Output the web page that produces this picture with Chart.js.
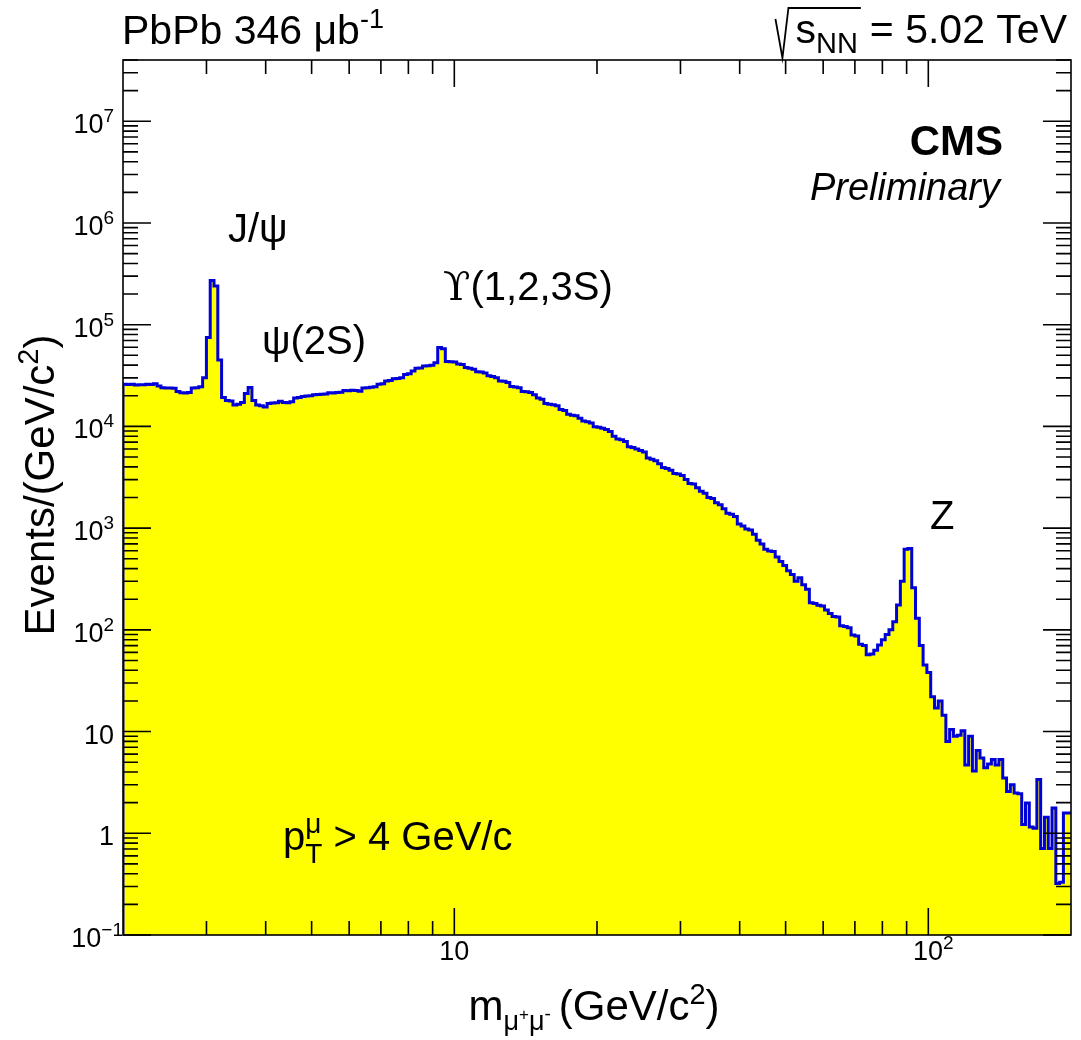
<!DOCTYPE html>
<html>
<head>
<meta charset="utf-8">
<title>PbPb dimuon mass spectrum</title>
<script src="https://cdn.jsdelivr.net/npm/chart.js@4.4.1/dist/chart.umd.min.js"></script>
<style>
  html, body { margin: 0; padding: 0; background: #ffffff; }
  #wrap { width: 1081px; height: 1040px; position: relative; }
</style>
</head>
<body>
<div id="wrap"><canvas id="c" width="1081" height="1040"></canvas></div>
<script>
// Invariant mass range (GeV/c^2), log-uniform bins
const massMin = 2;
const massMax = 200;

// Events/(GeV/c^2) per bin, 250 log-uniform bins between massMin and massMax
const counts = [
  2.6e4, 2.58e4, 2.6e4, 2.55e4, 2.57e4, 2.56e4, 2.6e4, 2.58e4, 2.62e4, 2.5e4,
  2.4e4, 2.39e4, 2.38e4, 2.37e4, 2.2e4, 2.14e4, 2.13e4, 2.16e4, 2.38e4, 2.4e4,
  2.45e4, 3.0e4, 7.5e4, 2.72e5, 2.4e5, 4.5e4, 1.92e4, 1.8e4, 1.78e4, 1.62e4,
  1.65e4, 1.72e4, 2.1e4, 2.41e4, 1.8e4, 1.62e4, 1.6e4, 1.55e4, 1.68e4, 1.7e4,
  1.71e4, 1.77e4, 1.72e4, 1.71e4, 1.75e4, 1.9e4, 1.92e4, 1.97e4, 1.99e4, 2.0e4,
  2.05e4, 2.06e4, 2.07e4, 2.08e4, 2.14e4, 2.13e4, 2.15e4, 2.17e4, 2.26e4, 2.24e4,
  2.27e4, 2.25e4, 2.22e4, 2.38e4, 2.4e4, 2.42e4, 2.45e4, 2.59e4, 2.62e4, 2.79e4,
  2.82e4, 2.94e4, 2.96e4, 3.0e4, 3.24e4, 3.3e4, 3.5e4, 3.72e4, 3.75e4, 3.92e4,
  3.95e4, 4.0e4, 4.23e4, 5.95e4, 5.8e4, 4.35e4, 4.33e4, 4.3e4, 4.1e4, 4.05e4,
  3.8e4, 3.72e4, 3.65e4, 3.45e4, 3.42e4, 3.35e4, 3.15e4, 3.1e4, 3.0e4, 2.8e4,
  2.78e4, 2.7e4, 2.47e4, 2.44e4, 2.4e4, 2.2e4, 2.19e4, 2.15e4, 2.05e4, 1.9e4,
  1.85e4, 1.68e4, 1.65e4, 1.63e4, 1.6e4, 1.47e4, 1.43e4, 1.32e4, 1.29e4, 1.27e4,
  1.2e4, 1.13e4, 1.11e4, 1.08e4, 9.9e3, 9.8e3, 9.6e3, 9.3e3, 8.9e3, 8.0e3,
  7.5e3, 7.4e3, 7.1e3, 6.3e3, 6.2e3, 6.0e3, 5.8e3, 5.6e3, 4.9e3, 4.75e3,
  4.6e3, 4.3e3, 3.95e3, 3.85e3, 3.7e3, 3.45e3, 3.4e3, 3.3e3, 3.0e3, 2.75e3,
  2.72e3, 2.5e3, 2.3e3, 2.2e3, 2.0e3, 1.95e3, 1.78e3, 1.7e3, 1.55e3, 1.4e3,
  1.37e3, 1.3e3, 1.1e3, 1.05e3, 980, 960, 870, 760, 700, 620,
  595, 590, 520, 470, 430, 380, 350, 300, 325, 278,
  250, 185, 182, 174, 172, 157, 145, 135, 134, 110,
  108, 105, 89, 87, 72, 70, 57, 58, 63, 71,
  80, 90, 100, 120, 175, 300, 620, 630, 260, 130,
  70, 45, 38, 22, 17, 20, 14.5, 8, 10.5, 9.0,
  9.2, 10.2, 4.7, 9.0, 4.1, 6.5, 5.5, 4.4, 4.8, 5.3,
  4.7, 5.3, 3.5, 2.57, 3.0, 2.49, 2.45, 1.22, 1.98, 1.15,
  1.12, 3.37, 0.71, 1.44, 0.71, 1.77, 0.32, 0.33, 1.58, 1.58
];

// Axis ranges
const yMin = 0.1;
const yMax = 4e7;

// Tick labels: [value, mantissa text, exponent text]
const xTickLabels = [[10, '10', ''], [100, '10', '2']];
const yTickLabels = [
  [0.1, '10', '\u22121'], [1, '1', ''], [10, '10', ''], [100, '10', '2'],
  [1e3, '10', '3'], [1e4, '10', '4'], [1e5, '10', '5'], [1e6, '10', '6'], [1e7, '10', '7']
];

const FONT = '"Liberation Sans", Arial, Helvetica, sans-serif';

// Step outline: start on the floor at the low edge, then one point per bin low edge,
// closing at the upper edge of the last bin
const nBins = counts.length;
const binEdge = i => massMin * Math.pow(massMax / massMin, i / nBins);
const points = [{ x: massMin, y: yMin }];
counts.forEach((c, i) => points.push({ x: binEdge(i), y: c }));
points.push({ x: massMax, y: counts[nBins - 1] });

// Draws a run of text pieces (with sub/superscripts) and returns its extent
function drawRich(ctx, parts, x, y, align) {
  let w = 0;
  const widths = [];
  parts.forEach((p, k) => {
    ctx.font = p.font;
    const pw = ctx.measureText(p.t).width;
    widths.push(pw);
    if (p.stack) {
      // stacked over the previous piece: width is the max of both
      const prev = widths[k - 1];
      if (pw > prev) w += pw - prev;
    } else {
      w += pw + (p.gap || 0);
    }
  });
  let cx = align === 'right' ? x - w : align === 'center' ? x - w / 2 : x;
  const left = cx;
  let lastX = cx, lastW = 0;
  parts.forEach((p, k) => {
    ctx.font = p.font;
    if (p.stack) {
      ctx.fillText(p.t, lastX, y + (p.dy || 0));
      if (widths[k] > lastW) { cx = lastX + widths[k]; }
    } else {
      ctx.fillText(p.t, cx, y + (p.dy || 0));
      lastX = cx; lastW = widths[k];
      cx += widths[k] + (p.gap || 0);
    }
  });
  return { left, right: left + w };
}

const framePlugin = {
  id: 'frame',
  afterDatasetsDraw(chart) {
    const { ctx, chartArea: a, scales } = chart;
    const xs = scales.x, ys = scales.y;
    ctx.save();
    ctx.strokeStyle = '#000';
    ctx.lineWidth = 1.6;
    ctx.strokeRect(a.left, a.top, a.right - a.left, a.bottom - a.top);
    ctx.beginPath();
    // mass axis ticks, bottom and top, pointing inward
    for (let d = 0; d <= 2; d++) {
      for (let k = 1; k <= 9; k++) {
        const v = k * Math.pow(10, d);
        if (v <= massMin || v >= massMax) continue;
        const px = xs.getPixelForValue(v);
        const len = k === 1 ? 27 : 14;
        ctx.moveTo(px, a.bottom); ctx.lineTo(px, a.bottom - len);
        ctx.moveTo(px, a.top); ctx.lineTo(px, a.top + len);
      }
    }
    // event axis ticks, left and right
    for (let d = -1; d <= 7; d++) {
      for (let k = 1; k <= 9; k++) {
        const v = k * Math.pow(10, d);
        if (v < yMin * 0.999 || v > yMax * 1.001) continue;
        const py = ys.getPixelForValue(v);
        const len = k === 1 ? 28 : 15;
        ctx.moveTo(a.left, py); ctx.lineTo(a.left + len, py);
        ctx.moveTo(a.right, py); ctx.lineTo(a.right - len, py);
      }
    }
    ctx.stroke();
    ctx.restore();
  },
  afterDraw(chart) {
    const { ctx, chartArea: a, scales } = chart;
    const xs = scales.x, ys = scales.y;
    ctx.save();
    ctx.fillStyle = '#000';
    ctx.textBaseline = 'alphabetic';

    const big = '42px ' + FONT;
    const sub = '29px ' + FONT;
    const lab = '27px ' + FONT;
    const labExp = '19px ' + FONT;

    // y tick labels
    yTickLabels.forEach(([v, m, e]) => {
      const py = ys.getPixelForValue(v);
      const parts = [{ t: m, font: lab }];
      if (e) parts.push({ t: e, font: labExp, dy: -11 });
      drawRich(ctx, parts, e === '\u22121' ? 123 : 114, py + 12, 'right');
    });

    // x tick labels
    xTickLabels.forEach(([v, m, e]) => {
      const px = xs.getPixelForValue(v);
      const parts = [{ t: m, font: lab }];
      if (e) parts.push({ t: e, font: labExp, dy: -11 });
      drawRich(ctx, parts, px + (e ? 5 : 0), a.bottom + 25, 'center');
    });

    // axis titles
    drawRich(ctx, [
      { t: 'm', font: big },
      { t: '\u03bc', font: '27px ' + FONT, dy: 10 },
      { t: '+', font: '17px ' + FONT, dy: 0 },
      { t: '\u03bc', font: '27px ' + FONT, dy: 10 },
      { t: '-', font: '19px ' + FONT, dy: 0, gap: 8 },
      { t: '(GeV/c', font: big },
      { t: '2', font: sub, dy: -16 },
      { t: ')', font: big }
    ], 594, 1020, 'center');

    ctx.save();
    ctx.translate(54, 485);
    ctx.rotate(-Math.PI / 2);
    drawRich(ctx, [
      { t: 'Events/(GeV/c', font: big },
      { t: '2', font: sub, dy: -16 },
      { t: ')', font: big }
    ], 0, 0, 'center');
    ctx.restore();

    // header: luminosity (left) and energy (right)
    drawRich(ctx, [
      { t: 'PbPb 346 \u03bcb', font: '41px ' + FONT },
      { t: '-1', font: '27px ' + FONT, dy: -16 }
    ], 122, 44, 'left');

    const ext = drawRich(ctx, [
      { t: 's', font: '41px ' + FONT },
      { t: 'NN', font: '29px ' + FONT, dy: 10, gap: 12 },
      { t: '= 5.02 TeV', font: '41px ' + FONT }
    ], 1067, 43, 'right');
    // radical sign over s_NN
    ctx.font = '41px ' + FONT;
    const sW = ctx.measureText('s').width;
    ctx.font = '29px ' + FONT;
    const nnEnd = ext.left + sW + ctx.measureText('NN').width + 3;
    ctx.beginPath();
    ctx.strokeStyle = '#000';
    ctx.lineWidth = 1.8;
    ctx.moveTo(ext.left - 20, 19);
    ctx.lineTo(ext.left - 13, 58);
    ctx.lineTo(ext.left - 7, 8);
    ctx.lineTo(nnEnd, 8);
    ctx.stroke();

    // experiment label
    ctx.font = 'bold 42px ' + FONT;
    ctx.textAlign = 'right';
    ctx.fillText('CMS', 1003, 155);
    ctx.font = 'italic 38px ' + FONT;
    ctx.fillText('Preliminary', 1000, 200);
    ctx.textAlign = 'left';

    // resonance annotations
    const ann = '40px ' + FONT;
    ctx.font = ann;
    ctx.fillText('J/\u03c8', 228, 242);
    ctx.fillText('\u03c8(2S)', 262, 354);
    drawRich(ctx, [
      { t: '\u03d2', font: '40px "DejaVu Serif", ' + FONT },
      { t: '(1,2,3S)', font: ann }
    ], 443, 300, 'left');
    ctx.font = ann;
    ctx.fillText('Z', 930, 529);

    // muon transverse momentum cut
    drawRich(ctx, [
      { t: 'p', font: ann },
      { t: 'T', font: '28px ' + FONT, dy: 13 },
      { t: '\u03bc', font: '28px ' + FONT, dy: -17, stack: true },
      { t: ' > 4 GeV/c', font: ann }
    ], 283, 850, 'left');

    ctx.restore();
  }
};

new Chart(document.getElementById('c'), {
  type: 'line',
  data: {
    datasets: [{
      data: points,
      stepped: 'before',
      fill: 'start',
      backgroundColor: '#ffff00',
      borderColor: '#0000d8',
      borderWidth: 3,
      pointRadius: 0,
      pointHoverRadius: 0,
      tension: 0
    }]
  },
  options: {
    responsive: false,
    animation: false,
    events: [],
    layout: { padding: { left: 123, right: 10, top: 60, bottom: 105 } },
    scales: {
      x: { type: 'logarithmic', min: massMin, max: massMax, display: false },
      y: { type: 'logarithmic', min: yMin, max: yMax, display: false }
    },
    plugins: { legend: { display: false }, tooltip: { enabled: false } }
  },
  plugins: [framePlugin]
});
</script>
</body>
</html>
